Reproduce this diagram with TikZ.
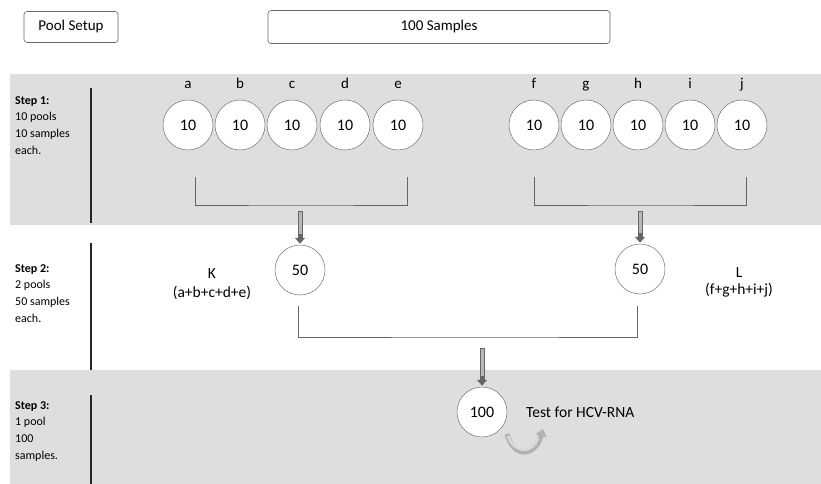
\documentclass[tikz,border=0pt]{standalone}
\usepackage{fontspec}
\setmainfont{Carlito}
\usetikzlibrary{arrows.meta}
\begin{document}
\begin{tikzpicture}[x=1pt,y=-1pt,
  big/.style={font=\fontsize{15}{18}\selectfont},
  topbox/.style={draw=black!60, rounded corners=3pt, line width=0.6pt, fill=white, big, inner sep=0pt},
  pool/.style={circle, draw=black!55, fill=white, minimum size=50pt, inner sep=0pt, line width=0.5pt, font=\fontsize{16}{18}\selectfont},
  lbl/.style={big},
  steptxt/.style={align=left, anchor=north west, font=\fontsize{12}{16.8}\selectfont, inner sep=0pt},
  divider/.style={line width=1.8pt, black!85},
  brk/.style={draw=black!60, line width=0.6pt},
  down/.style={draw=black!60, line width=5pt, -{Triangle[width=10pt,length=6pt]}, shorten >=1pt},
  downin/.style={draw=black!28, line width=3pt}
]
\useasboundingbox (0,0) rectangle (821,484);
\fill[white] (0,0) rectangle (821,484);
% bands
\fill[black!13] (10,74) rectangle (821,225);
\fill[black!13] (10,370) rectangle (821,484);
% top boxes
\node[topbox, minimum width=94pt, minimum height=31pt] (setup) at (71,27) {Pool Setup};
\node[topbox, minimum width=342pt, minimum height=33pt] (samples) at (439,27) {100 Samples};
% step texts
\node[steptxt] (s1) at (15,96) {\textbf{Step 1:}\\10 pools\\10 samples\\each.};
\node[steptxt] (s2) at (15,264) {\textbf{Step 2:}\\2 pools\\50 samples\\each.};
\node[steptxt] (s3) at (15,401) {\textbf{Step 3:}\\1 pool\\100\\samples.};
% dividers
\coordinate (d1a) at (91,88); \coordinate (d1b) at (91,223);
\coordinate (d2a) at (91,243); \coordinate (d2b) at (91,370);
\coordinate (d3a) at (91,395); \coordinate (d3b) at (91,484);
\draw[divider] (d1a) -- (d1b);
\draw[divider] (d2a) -- (d2b);
\draw[divider] (d3a) -- (d3b);
% step 1 pools
\foreach \n/\x in {a/188,b/240,c/292,d/345,e/398,f/534,g/586,h/638,i/690,j/742}{
  \node[pool] (p\n) at (\x,125) {10};
  \node[lbl, anchor=base] (l\n) at (\x,89) {\n};
}
% brackets step1
\coordinate (b1l) at (195,177); \coordinate (b1r) at (407,177);
\coordinate (b2l) at (534,177); \coordinate (b2r) at (746,177);
\draw[brk] (b1l) |- (301,205) -| (b1r);
\draw[brk] (b2l) |- (641,205) -| (b2r);
% step 2 pools
\node[pool] (K) at (300,270) {50};
\node[pool] (L) at (640,269) {50};
\node[lbl, align=center, font=\fontsize{15.5}{19}\selectfont] (Kt) at (212,284) {K\\(a+b+c+d+e)};
\node[lbl, align=center, font=\fontsize{15.5}{17}\selectfont] (Lt) at (739,282) {L\\(f+g+h+i+j)};
\coordinate (a1) at (300,211);
\coordinate (a2) at (640,211);
\draw[down] (a1) -- (K.north);
\draw[downin] (300,212) -- (300,234);
\draw[down] (a2) -- (L.north);
\draw[downin] (640,212) -- (640,233);
% bracket step2
\coordinate (c1) at (298,306); \coordinate (c2) at (637,306);
\draw[brk] (c1) |- (482,337) -| (c2);
% step 3
\node[pool] (T) at (482,412) {100};
\node[lbl, anchor=west, inner sep=0pt, font=\fontsize{15.5}{18}\selectfont] (Tt) at (526,412) {Test for HCV-RNA};
\coordinate (a3) at (482,348);
\draw[down] (a3) -- (T.north);
\draw[downin] (482,349) -- (482,376);
% curved arrow
\coordinate (u1) at (507,434);
\coordinate (u2) at (543,429);
\draw[black!30, line width=5pt, -{Triangle[width=11pt,length=7pt]}] (u1) .. controls (513,458) and (535,458) .. (u2);
\draw[white!85!black, line width=2.6pt] (508,436) .. controls (514,454) and (533,454) .. (538,438);
\end{tikzpicture}
\end{document}
